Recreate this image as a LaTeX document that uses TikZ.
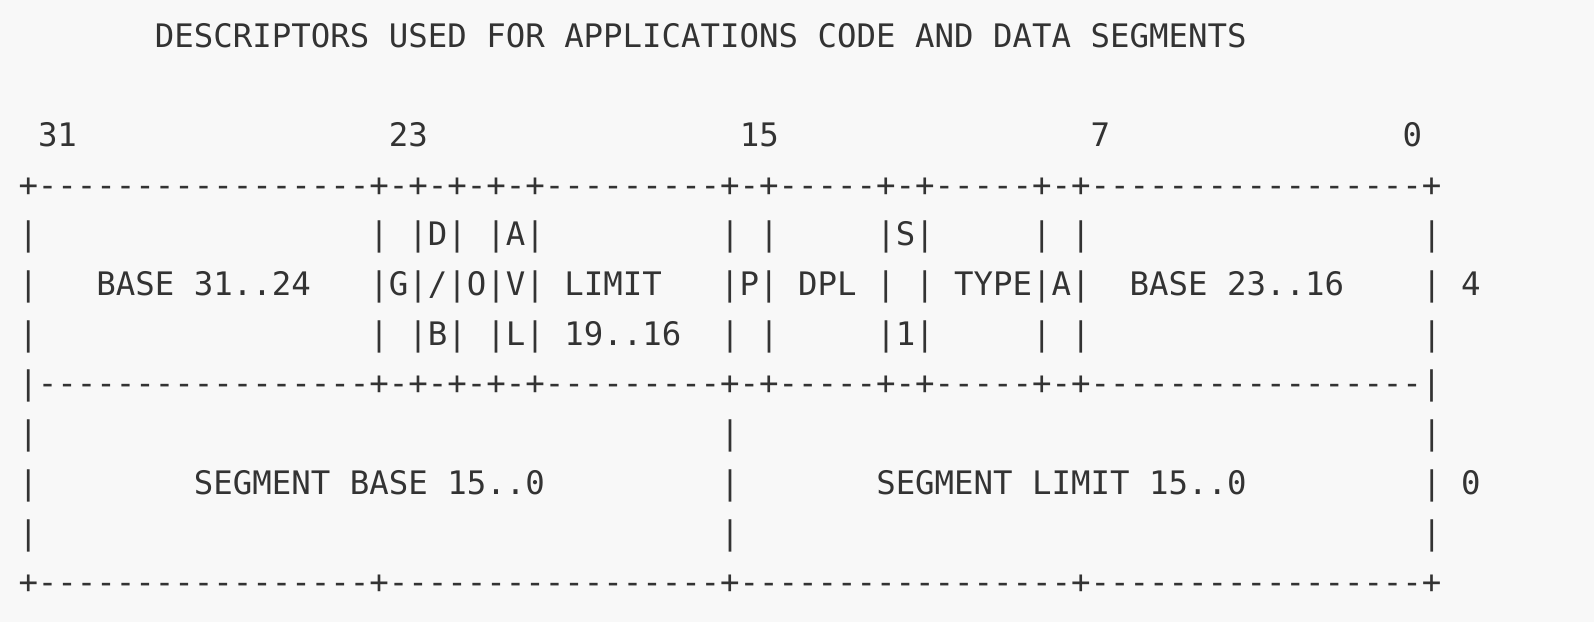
\documentclass[tikz,border=0pt]{standalone}
\usepackage{fontspec}
\setmonofont{DejaVu Sans Mono}
\definecolor{bg}{HTML}{F8F8F8}
\definecolor{ink}{HTML}{333333}
\newcommand\gap[1]{\hspace*{#1\fontcharwd\font`\0}}
\begin{document}
\begin{tikzpicture}[x=0.5pt,y=-0.5pt,
  ascii/.style={anchor=base west, inner sep=0pt, outer sep=0pt, text=ink,
    font=\ttfamily\fontsize{16.19}{16.19}\selectfont}]
\fill[bg] (0,0) rectangle (1594,622);
\useasboundingbox (0,0) rectangle (1594,622);
\node[ascii] (title) at (154.9,47) {DESCRIPTORS USED FOR APPLICATIONS CODE AND DATA SEGMENTS};
\node[ascii] (bits) at (38.0,146.4) {31\gap{16}23\gap{16}15\gap{16}7\gap{15}0};
\node[ascii] (top) at (18.5,196.1) {+-----------------+-+-+-+-+---------+-+-----+-+-----+-+-----------------+};
\node[ascii] (r1) at (18.5,245.8) {|\gap{17}|\gap{1}|D|\gap{1}|A|\gap{9}|\gap{1}|\gap{5}|S|\gap{5}|\gap{1}|\gap{17}|};
\node[ascii] (r2) at (18.5,295.5) {|\gap{3}BASE 31..24\gap{3}|G|/|O|V|\gap{1}LIMIT\gap{3}|P|\gap{1}DPL\gap{1}|\gap{1}|\gap{1}TYPE|A|\gap{2}BASE 23..16\gap{4}|\gap{1}4};
\node[ascii] (r3) at (18.5,345.2) {|\gap{17}|\gap{1}|B|\gap{1}|L|\gap{1}19..16\gap{2}|\gap{1}|\gap{5}|1|\gap{5}|\gap{1}|\gap{17}|};
\node[ascii] (mid) at (18.5,394.9) {|-----------------+-+-+-+-+---------+-+-----+-+-----+-+-----------------|};
\node[ascii] (r4) at (18.5,444.6) {|\gap{35}|\gap{35}|};
\node[ascii] (r5) at (18.5,494.3) {|\gap{8}SEGMENT BASE 15..0\gap{9}|\gap{7}SEGMENT LIMIT 15..0\gap{9}|\gap{1}0};
\node[ascii] (r6) at (18.5,544.0) {|\gap{35}|\gap{35}|};
\node[ascii] (bot) at (18.5,593.7) {+-----------------+-----------------+-----------------+-----------------+};
\end{tikzpicture}
\end{document}
